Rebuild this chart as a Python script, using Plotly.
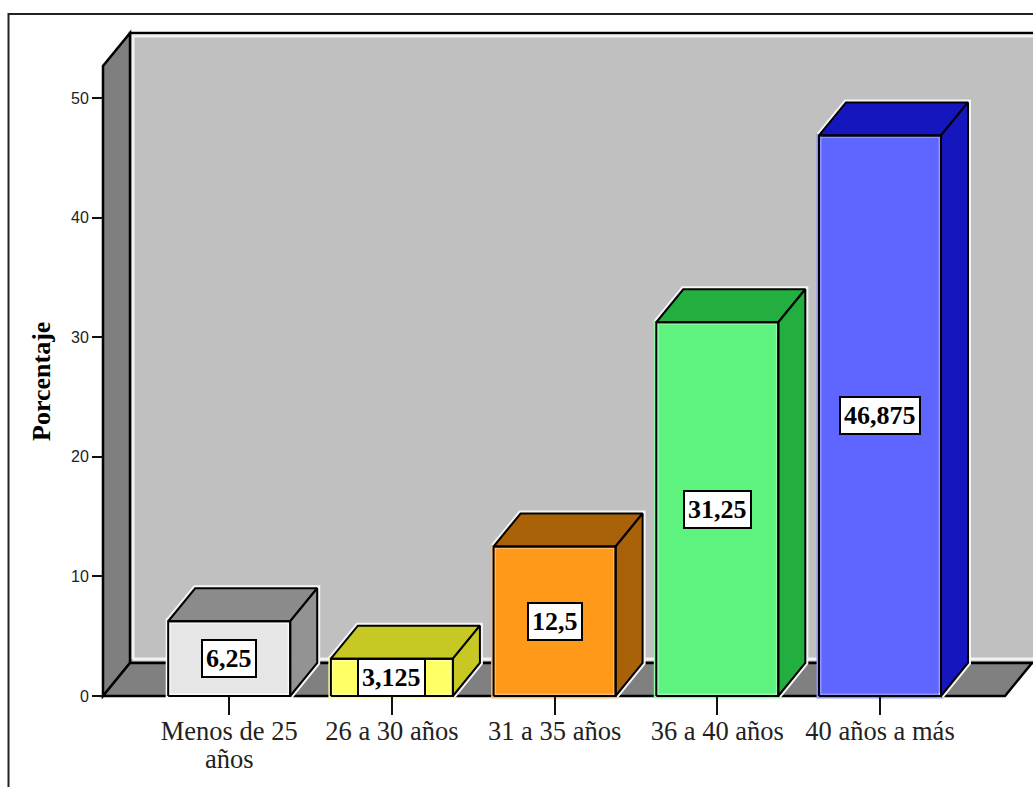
import plotly.graph_objects as go

# Age-group distribution, in percent
categories = ["Menos de 25<br>años", "26 a 30 años", "31 a 35 años", "36 a 40 años", "40 años a más"]
percentages = [6.25, 3.125, 12.5, 31.25, 46.875]
y_ticks = [0, 10, 20, 30, 40, 50]

front_colors = ["#E6E6E6", "#FFFF66", "#FF991A", "#5EF27E", "#5E66FF"]
bevel_colors = ["#FAFAFA", "#FFFF99", "#FFBB66", "#99F7AD", "#8F95FF"]
top_colors = ["#8B8B8B", "#C8C824", "#AA6209", "#22AF3F", "#1616BE"]
side_colors = ["#939393", "#C8C824", "#AA6209", "#22AF3F", "#1616BE"]

# Axis scale: pixels per category and per percentage point
PX_CAT, PX_VAL = 162.7, 11.96
X0_PX, Y0_PX = 229.2, 696
W, H = 1033, 787
BAR_W = 0.75
DX, DY = 27 / PX_CAT, 33 / PX_VAL  # oblique depth of the 3D box
LABEL_FONT = dict(family="Liberation Serif", size=26.5, color="#222222")


def xpx(p):
    return (p - X0_PX) / PX_CAT


def ypx(p):
    return (Y0_PX - p) / PX_VAL


fig = go.Figure()

# Front faces
fig.add_bar(
    x=list(range(len(percentages))), y=percentages, width=BAR_W,
    marker=dict(color=front_colors, line=dict(color=bevel_colors, width=5)),
    hoverinfo="skip",
)


def polygon(xs, ys, fill=None, color="#000000", width=2):
    fig.add_scatter(
        x=xs, y=ys, mode="lines", hoverinfo="skip", showlegend=False,
        fill="toself" if fill else "none", fillcolor=fill,
        line=dict(color=color, width=width),
    )


for i, v in enumerate(percentages):
    l, r = i - BAR_W / 2, i + BAR_W / 2
    # Soft light rim around the receding faces
    polygon([l, l + DX, r + DX, r + DX, r], [v, v + DY, v + DY, DY, 0], color="#F4F4F4", width=6)
    polygon([l, l + DX, r + DX, r, l], [v, v + DY, v + DY, v, v], fill=top_colors[i])
    polygon([r, r + DX, r + DX, r, r], [v, v + DY, DY, 0, v], fill=side_colors[i])
    polygon([l, l, r, r, l], [0, v, v, 0, 0], width=2)

# Walls and floor of the chart box
wall_l, wall_r, wall_far = xpx(103), xpx(1005), xpx(1040)
top = ypx(33)
shapes = [
    dict(type="path", path=f"M {wall_l + DX} {DY} L {wall_far} {DY} L {wall_far} {top} L {wall_l + DX} {top} Z",
         fillcolor="#C0C0C0", line=dict(color="#000000", width=2.5)),
    dict(type="path",
         path=f"M {xpx(133)} {ypx(659)} L {wall_far} {ypx(659)} M {xpx(133)} {ypx(659)} L {xpx(133)} {ypx(36)} L {wall_far} {ypx(36)}",
         line=dict(color="#F2F2F2", width=3)),
    dict(type="path", path=f"M {wall_l} 0 L {wall_l} {top - DY} L {wall_l + DX} {top} L {wall_l + DX} {DY} Z",
         fillcolor="#7F7F7F", line=dict(color="#000000", width=2.5)),
    dict(type="path", path=f"M {wall_l} 0 L {wall_r} 0 L {wall_r + DX} {DY} L {wall_l + DX} {DY} Z",
         fillcolor="#808080", line=dict(color="#000000", width=2.5)),
    # Outer frame
    dict(type="path", xref="paper", yref="paper",
         path=f"M {8.5 / W} 0 L {8.5 / W} {1 - 14 / H} L 1 {1 - 14 / H}",
         line=dict(color="#222222", width=2)),
]
for s in shapes:
    s["layer"] = "below"

# Value boxes centred on each bar
annotations = [
    dict(x=i, y=v / 2, xref="x", yref="y", text=str(v).replace(".", ","), showarrow=False,
         font=dict(family="Liberation Serif", size=26, color="#000000", weight="bold"),
         bgcolor="#FFFFFF", bordercolor="#000000", borderwidth=2, borderpad=3)
    for i, v in enumerate(percentages)
]
annotations.append(dict(
    x=41 / W, y=1 - 382 / H, xref="paper", yref="paper", xanchor="center", yanchor="middle",
    text="Porcentaje", textangle=-90, showarrow=False,
    font=dict(family="Liberation Serif", size=26, color="#000000", weight="bold"),
))

# Wrapped category names: the first line sits on the axis, the rest go tightly below it
tick_text = [c.split("<br>")[0] for c in categories]
for i, c in enumerate(categories):
    for line in c.split("<br>")[1:]:
        annotations.append(dict(
            x=i, y=ypx(759), xref="x", yref="y", text=line, showarrow=False,
            xanchor="center", yanchor="middle", font=LABEL_FONT,
        ))

fig.update_layout(
    width=W, height=H, autosize=False,
    margin=dict(l=0, r=0, t=0, b=0, pad=0),
    paper_bgcolor="#FFFFFF", plot_bgcolor="#FFFFFF",
    showlegend=False, shapes=shapes, annotations=annotations,
    xaxis=dict(
        range=[xpx(0), xpx(W)], anchor="free", position=(H - Y0_PX) / H, showgrid=False, zeroline=False,
        tickmode="array", tickvals=list(range(len(categories))), ticktext=tick_text,
        ticks="outside", ticklen=18, tickwidth=2, tickcolor="#111111",
        tickfont=LABEL_FONT, tickangle=0, ticklabelstandoff=-7,
    ),
    yaxis=dict(
        range=[ypx(H), ypx(0)], anchor="free", position=103 / W, showgrid=False, zeroline=False,
        tickmode="array", tickvals=y_ticks,
        ticks="outside", ticklen=11, tickwidth=2, tickcolor="#111111",
        tickfont=dict(family="Liberation Sans", size=16, color="#222222"),
    ),
)

fig.write_html("out.html")
